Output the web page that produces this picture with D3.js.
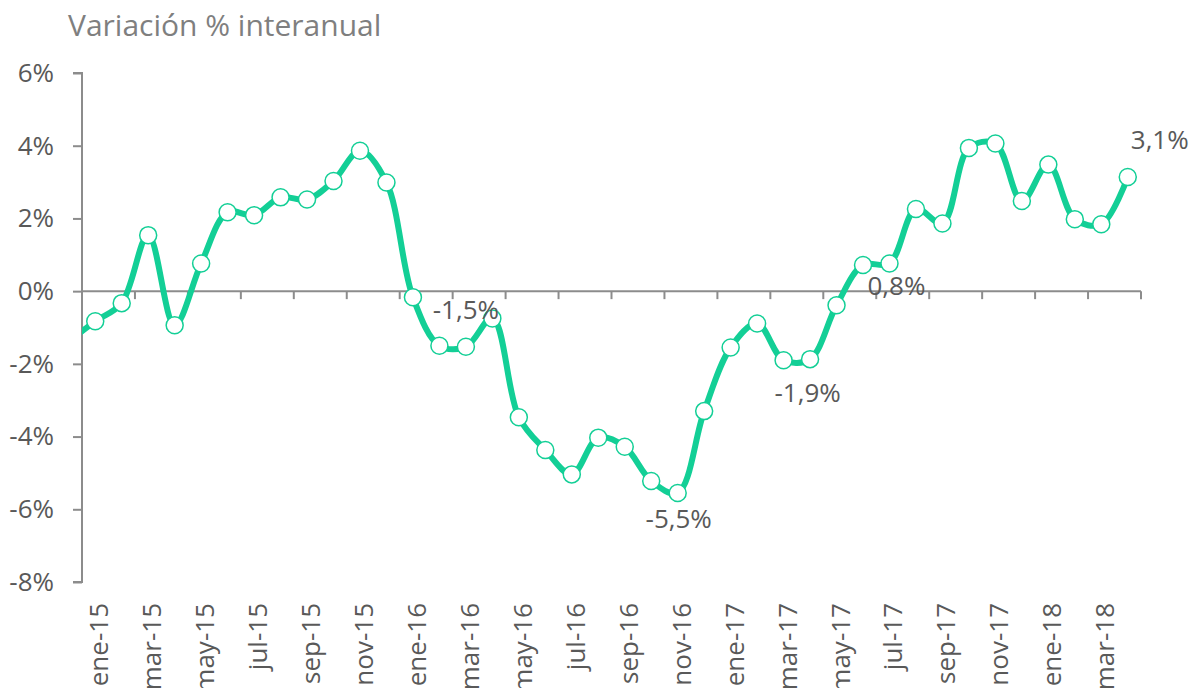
<!DOCTYPE html>
<html>
<head>
<meta charset="utf-8">
<script src="https://cdn.jsdelivr.net/npm/d3@7"></script>
<style>
  body { margin: 0; background: #fff; }
  svg { display: block; font-family: "Open Sans", "Noto Sans", sans-serif; }
</style>
</head>
<body>
<svg width="1191" height="688"></svg>
<script>
// month labels, dic-14 only feeds the line segment entering the plot
const months = ["ene-15","feb-15","mar-15","abr-15","may-15","jun-15","jul-15","ago-15","sep-15","oct-15","nov-15","dic-15",
  "ene-16","feb-16","mar-16","abr-16","may-16","jun-16","jul-16","ago-16","sep-16","oct-16","nov-16","dic-16",
  "ene-17","feb-17","mar-17","abr-17","may-17","jun-17","jul-17","ago-17","sep-17","oct-17","nov-17","dic-17",
  "ene-18","feb-18","mar-18","abr-18"];
const values = [-0.83, -0.33, 1.54, -0.94, 0.76, 2.17, 2.09, 2.58, 2.52, 3.03, 3.86, 2.99,
  -0.17, -1.5, -1.53, -0.75, -3.47, -4.37, -5.04, -4.03, -4.28, -5.22, -5.55, -3.3,
  -1.55, -0.89, -1.9, -1.87, -0.39, 0.72, 0.76, 2.26, 1.86, 3.94, 4.06, 2.48,
  3.48, 1.98, 1.84, 3.14];
const prevValue = -1.38; // dic-14
const yTicks = [-8, -6, -4, -2, 0, 2, 4, 6];
const labelled = [
  { month: "mar-16", text: "-1,5%", dx: 0, dy: -28 },
  { month: "nov-16", text: "-5,5%", dx: 1, dy: 35 },
  { month: "mar-17", text: "-1,9%", dx: 24, dy: 42 },
  { month: "jul-17", text: "0,8%", dx: 7, dy: 31 },
  { month: "abr-18", text: "3,1%", dx: 32, dy: -28 }
];

const svg = d3.select("svg");
const mLeft = 82, mRight = 1141, mTop = 73, mBottom = 582;
const green = "#13cf96", axisCol = "#8c8c8c", textCol = "#595959";

const x = d3.scaleBand().domain(months).range([mLeft, mRight]);
const y = d3.scaleLinear().domain([-8, 6]).range([mBottom, mTop]);
const cx = m => x(m) + x.bandwidth() / 2;

svg.append("text")
  .attr("x", 68).attr("y", 36)
  .attr("fill", "#7f7f7f").attr("font-size", 30)
  .text("Variación % interanual");

// y axis
const yAxis = svg.append("g").attr("transform", `translate(${mLeft},0)`)
  .call(d3.axisLeft(y).tickValues(yTicks).tickSize(9).tickPadding(19).tickFormat(d => d + "%"));
yAxis.select(".domain").attr("stroke", axisCol).attr("stroke-width", 2).attr("d", `M-9,${mBottom}H0V${mTop}H-9`);
yAxis.selectAll(".tick line").attr("stroke", axisCol).attr("stroke-width", 2);
yAxis.selectAll(".tick text").attr("fill", textCol).attr("font-size", 26).attr("font-family", "Open Sans");

// x axis on the zero line, ticks between every two months
const xAxis = svg.append("g").attr("transform", `translate(0,${y(0)})`);
xAxis.append("line").attr("x1", mLeft).attr("x2", mRight).attr("stroke", axisCol).attr("stroke-width", 2);
const boundaries = d3.range(0, months.length + 1, 2).map(i => mLeft + i * x.bandwidth());
xAxis.selectAll(".xt").data(boundaries).enter().append("line")
  .attr("x1", d => d).attr("x2", d => d).attr("y1", 0).attr("y2", 8)
  .attr("stroke", axisCol).attr("stroke-width", 2);

svg.append("g").selectAll("text")
  .data(months.filter((m, i) => i % 2 === 0))
  .enter().append("text")
  .attr("transform", d => `translate(${cx(d) + 3},${mBottom + 21}) rotate(-90)`)
  .attr("text-anchor", "end").attr("dominant-baseline", "central")
  .attr("fill", textCol).attr("font-size", 26)
  .text(d => d);

// line
const pts = [[x(months[0]) - x.bandwidth() / 2, prevValue]].concat(months.map((m, i) => [cx(m), values[i]]));
svg.append("clipPath").attr("id", "clip").append("rect")
  .attr("x", mLeft).attr("y", 0).attr("width", mRight - mLeft + 30).attr("height", 688);
svg.append("path")
  .datum(pts)
  .attr("clip-path", "url(#clip)")
  .attr("fill", "none").attr("stroke", green).attr("stroke-width", 6)
  .attr("stroke-linejoin", "round")
  .attr("d", d3.line().x(d => d[0]).y(d => y(d[1])).curve(d3.curveCatmullRom.alpha(0.5)));

svg.append("g").selectAll("circle")
  .data(months)
  .enter().append("circle")
  .attr("cx", d => cx(d)).attr("cy", (d, i) => y(values[i]))
  .attr("r", 8.5)
  .attr("fill", "#fff").attr("stroke", green).attr("stroke-width", 1.5);

svg.append("g").selectAll("text")
  .data(labelled)
  .enter().append("text")
  .attr("x", d => cx(d.month) + d.dx)
  .attr("y", d => y(values[months.indexOf(d.month)]) + d.dy)
  .attr("text-anchor", "middle")
  .attr("fill", textCol).attr("font-size", 26)
  .text(d => d.text);
</script>
</body>
</html>
